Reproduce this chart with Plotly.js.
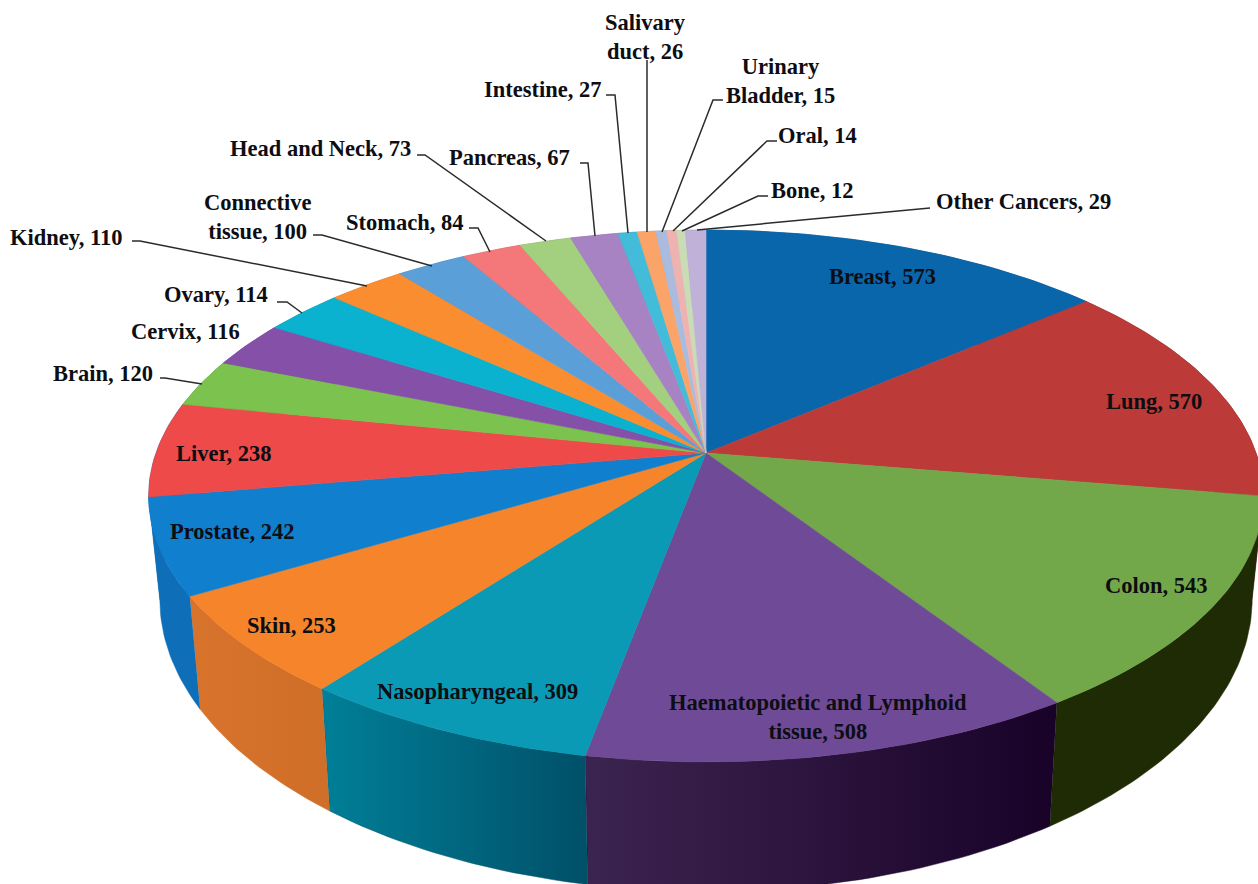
<!DOCTYPE html>
<html><head><meta charset="utf-8">
<script src="https://cdn.plot.ly/plotly-3.0.1.min.js"></script>
<style>html,body{margin:0;padding:0;background:#fff;overflow:hidden}</style>
</head><body><div id="chart" style="width:1258px;height:884px"></div>
<script>
// ---- data ----
const categories = ["Breast","Lung","Colon","Haematopoietic and Lymphoid<br>tissue","Nasopharyngeal","Skin","Prostate","Liver","Brain","Cervix","Ovary","Kidney","Connective<br>tissue","Stomach","Head and Neck","Pancreas","Intestine","Salivary<br>duct","Urinary<br>Bladder","Oral","Bone","Other Cancers"];
const values = [573,570,543,508,309,253,242,238,120,116,114,110,100,84,73,67,27,26,15,14,12,29];
// ---- styling ----
const topColors = ["#0a66ab","#bc3a38","#72a84a","#6f4a96","#0a9ab5","#f5842a","#0f7fce","#ee4a4a","#7bc24e","#8450a8","#0ab2d0","#f98d30","#5b9fd8","#f4787a","#a3d07f","#a783c4","#42bcd8","#fba46a","#a9bce0","#eeb3b1","#c9dcb5","#c0b1d8"];
const sideLeft  = ["#07497a","#6e1f1e","#1f2b05","#3c2450","#007f98","#d8732c","#0e6fb8","#0e6fb8","#5a8e38","#5e3878","#08809a","#b8651f","#44749e","#b05658","#769660","#785e8e","#30889c","#b4764c","#7a88a2","#ac8280","#929f82","#8a809c"];
const sideRight = ["#07497a","#6e1f1e","#1f2b05","#190228","#005068","#cf6e28","#0e6fb8","#0e6fb8","#5a8e38","#5e3878","#08809a","#b8651f","#44749e","#b05658","#769660","#785e8e","#30889c","#b4764c","#7a88a2","#ac8280","#929f82","#8a809c"];
const labelX = [882,1154,1156,818,477,291,232,223,103,185,216,66,257,405,320,509,543,645,780,817,812,1023];
const labelY = [276,401,585,717,691,625,531,453,373,331,294,237,217,222,148,157,89,37,81,135,190,201];
const leaderX = [[],[],[],[],[],[],[],[],[160,165,202],[],[277,287,302],[132,140,367],[313,322,432],[469,478,490],[417,425,546],[580,588,595],[606,615,628],[647,647],[723,713,662],[777,767,673],[768,758,682],[930,697]];
const leaderY = [[],[],[],[],[],[],[],[],[378,378,384],[],[302,302,313],[241,241,286],[235,235,266],[228,228,252],[155,155,241],[163,163,236],[95,95,233],[60,232],[100,100,232],[141,141,231],[196,196,231],[208,230]];

// ---- projection of the round pie into the picture ----
const CX=706, CY=453, RX=550, RY=259, PERSP=0.1617;
function topPt(a){
  const X=Math.sin(a), Y=Math.cos(a), w=1+PERSP*Y;
  return [CX+RX*X/w, CY-RY*Y/w];
}
function botPt(a){
  const p=topPt(a);
  return [CX+0.98*(p[0]-CX), p[1]+113+(p[1]-597)*0.1];
}
const total = values.reduce((s,v)=>s+v,0);
function arc(a0,a1,fn){
  const n=Math.max(2,Math.ceil((a1-a0)/(Math.PI/180)));
  const out=[];
  for(let i=0;i<=n;i++) out.push(fn(a0+(a1-a0)*i/n));
  return out;
}
const sideTraces=[], topTraces=[], leaderTraces=[], annotations=[];
let cum=0;
values.forEach((v,i)=>{
  const a0=cum/total*2*Math.PI; cum+=v;
  const a1=cum/total*2*Math.PI;
  const name=categories[i].replace("<br>"," ");
  const top=arc(a0,a1,topPt);
  const bot=arc(a0,a1,botPt).reverse();
  const side=top.concat(bot);
  const s={type:"scatter",mode:"lines",name:name+" side",hoverinfo:"skip",showlegend:false,
    x:side.map(p=>p[0]),y:side.map(p=>p[1]),fill:"toself",fillcolor:sideLeft[i],
    line:{color:sideRight[i],width:0.5}};
  if(sideLeft[i]!==sideRight[i]) s.fillgradient={type:"horizontal",colorscale:[[0,sideLeft[i]],[1,sideRight[i]]]};
  sideTraces.push(s);
  const face=[[CX,CY]].concat(top,[[CX,CY]]);
  topTraces.push({type:"scatter",mode:"lines",name:name,showlegend:false,hoverinfo:"name",
    x:face.map(p=>p[0]),y:face.map(p=>p[1]),fill:"toself",fillcolor:topColors[i],
    line:{color:topColors[i],width:0.6}});
  if(leaderX[i].length) leaderTraces.push({type:"scatter",mode:"lines",hoverinfo:"skip",showlegend:false,
    x:leaderX[i],y:leaderY[i],line:{color:"#2b2b2b",width:1.5}});
  annotations.push({x:labelX[i],y:labelY[i],xref:"x",yref:"y",showarrow:false,
    text:categories[i]+", "+v,align:"center",xanchor:"center",yanchor:"middle",
    font:{family:"Liberation Serif",size:22.5,color:"#0d0d12",weight:700}});
});
Plotly.newPlot("chart",sideTraces.concat(topTraces,leaderTraces),{
  width:1258,height:884,margin:{l:0,r:0,t:0,b:0},paper_bgcolor:"#fff",plot_bgcolor:"#fff",
  showlegend:false,
  xaxis:{range:[0,1258],visible:false,fixedrange:true},
  yaxis:{range:[884,0],visible:false,fixedrange:true},
  annotations:annotations
},{displayModeBar:false,staticPlot:true});
</script></body></html>
